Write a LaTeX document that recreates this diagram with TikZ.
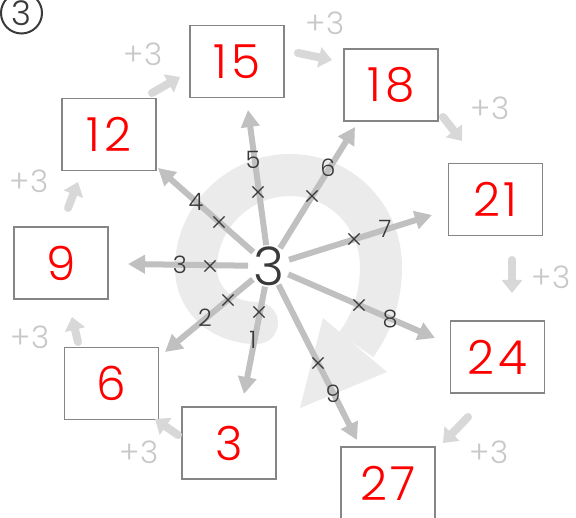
\documentclass[tikz,border=0pt]{standalone}
\usepackage{fontspec}
\setmainfont{Poppins Light}
\usetikzlibrary{arrows.meta,calc,shapes.misc}
\definecolor{spokecol}{HTML}{C0C0C0}
\definecolor{ringcol}{HTML}{EBEBEB}
\definecolor{pluscol}{HTML}{D8D8D8}
\definecolor{plustext}{HTML}{C8C8C8}
\definecolor{boxline}{HTML}{858585}
\definecolor{darkcol}{HTML}{3A3A3A}
\begin{document}
\begin{tikzpicture}[x=1pt,y=-1pt,
  numbox/.style={draw=boxline,line width=1.2pt,fill=white,minimum width=94pt,minimum height=72pt,inner sep=0pt,text=red,font=\fontsize{47}{47}\selectfont\addfontfeatures{LetterSpace=8}},
  spk/.style={draw=spokecol,line width=6pt,-{Triangle[length=17pt,width=18pt]}},
  xmark/.style={cross out,draw=darkcol,line width=1.2pt,minimum size=10pt,inner sep=0pt},
  spklab/.style={text=darkcol,font=\fontsize{24}{24}\selectfont,inner sep=0pt},
  plusarr/.style={draw=pluscol,line width=8pt,line cap=round,-{Triangle[length=13pt,width=20pt]}},
  pluslab/.style={text=plustext,font=\fontsize{31}{31}\selectfont,inner sep=0pt}
]
\useasboundingbox (0,0) rectangle (576,518);
\fill[white] (0,0) rectangle (576,518);

% big circular arrow
\draw[ringcol,line width=42pt] (257,323) .. controls (222,323) and (196,300) .. (196,268)
  .. controls (196,217) and (239,175) .. (290,175)
  .. controls (341,175) and (381,216) .. (381,267)
  .. controls (381,297) and (372,323) .. (356,345);
\fill[ringcol] (257,323) circle[radius=21pt];
\fill[ringcol] (323,318) -- (300,408) -- (387,372) -- cycle;

% centre
\coordinate (o) at (269,266);
\node[text=darkcol,font=\fontsize{53}{53}\selectfont,inner sep=0pt] (c) at (o) {3};

% spoke tips
\coordinate (t1) at (244,394);
\coordinate (t2) at (165,352);
\coordinate (t3) at (128,264);
\coordinate (t4) at (158,168);
\coordinate (t5) at (248,110);
\coordinate (t6) at (355,127);
\coordinate (t7) at (432,215);
\coordinate (t8) at (435,338);
\coordinate (t9) at (357,440);
\foreach \i in {1,...,9}{
  \draw[spk] ($(o)!21pt!(t\i)$) -- (t\i);
}

% crosses
\node[xmark] (x1) at (259,312) {};
\node[xmark] (x2) at (228,300) {};
\node[xmark] (x3) at (210,266) {};
\node[xmark] (x4) at (219,222) {};
\node[xmark] (x5) at (258,192) {};
\node[xmark] (x6) at (312,196) {};
\node[xmark] (x7) at (354,239) {};
\node[xmark] (x8) at (359,305) {};
\node[xmark] (x9) at (318,363) {};

% spoke labels
\node[spklab] (l1) at (253,340) {1};
\node[spklab] (l2) at (205,318) {2};
\node[spklab] (l3) at (180,265) {3};
\node[spklab] (l4) at (196,202) {4};
\node[spklab] (l5) at (253,160) {5};
\node[spklab] (l6) at (328,168) {6};
\node[spklab] (l7) at (385,229) {7};
\node[spklab] (l8) at (390,319) {8};
\node[spklab] (l9) at (333,394) {9};

% boxes
\node[numbox] (b3)  at (229,443)   {3};
\node[numbox] (b6)  at (111.5,383.5) {6};
\node[numbox] (b9)  at (61,263)    {9};
\node[numbox] (b12) at (109,134.5) {12};
\node[numbox] (b15) at (237,61.5)  {15};
\node[numbox] (b18) at (391,85)    {18};
\node[numbox] (b21) at (495.5,199.5) {21};
\node[numbox] (b24) at (497.5,357) {24};
\node[numbox] (b27) at (388,483)   {27};

% +3 arrows
\coordinate (p1a) at (152,93);  \coordinate (p1b) at (180,77);
\coordinate (p2a) at (298,53);  \coordinate (p2b) at (332,60);
\coordinate (p3a) at (443,117); \coordinate (p3b) at (462,141);
\coordinate (p4a) at (512,260); \coordinate (p4b) at (512,293);
\coordinate (p5a) at (468,417); \coordinate (p5b) at (443,443);
\coordinate (p6a) at (178,435); \coordinate (p6b) at (155,419);
\coordinate (p7a) at (78,342);  \coordinate (p7b) at (72,317);
\coordinate (p8a) at (68,208);  \coordinate (p8b) at (78,182);
\foreach \i in {1,...,8}{
  \draw[plusarr] (p\i a) -- (p\i b);
}
\node[pluslab] (q1) at (143,54)  {+3};
\node[pluslab] (q2) at (325,23)  {+3};
\node[pluslab] (q3) at (490,108) {+3};
\node[pluslab] (q4) at (551,277) {+3};
\node[pluslab] (q5) at (489,452) {+3};
\node[pluslab] (q6) at (139,452) {+3};
\node[pluslab] (q7) at (30,337)  {+3};
\node[pluslab] (q8) at (29,181)  {+3};

% circled 3
\node[circle,draw=darkcol,line width=2pt,minimum size=41pt,inner sep=0pt,text=darkcol,font=\fontsize{34}{34}\selectfont] (num) at (21.5,13) {3};
\end{tikzpicture}
\end{document}
